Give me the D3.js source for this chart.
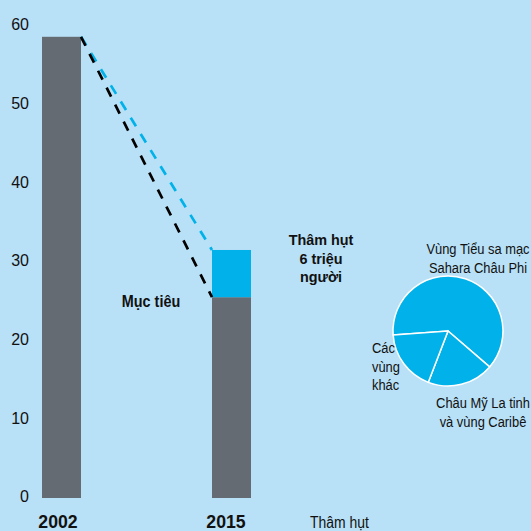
<!DOCTYPE html>
<html><head><meta charset="utf-8">
<script src="https://cdn.jsdelivr.net/npm/d3@7"></script>
<style>
html,body{margin:0;padding:0;background:#b8e0f6;}
svg{display:block;font-family:"Liberation Sans",Arial,sans-serif;}
</style></head>
<body><svg id="c" width="531" height="531"></svg>
<script>
const years = ["2002", "2015"];
const baseValues = [58.5, 25.4];     // 2002 actual, 2015 target
const shortfallValues = [0, 6.0];     // shortfall on top (2015)
const yTicks = [0, 10, 20, 30, 40, 50, 60];
const pieLabels = ["Vùng Tiểu sa mạc Sahara Châu Phi", "Châu Mỹ La tinh và vùng Caribê", "Các vùng khác"];
const pieValues = [62.5, 19.5, 18.0];

const svg = d3.select("#c");
const gray = "#646b72", cyan = "#00b2e9";

const y = d3.scaleLinear().domain([0, 60]).range([497, 25]);
const bw = 39;
const barX = {"2002": 42, "2015": 212};

// condensed text helper
function ctext(t, xx, yy, opts) {
  const o = Object.assign({size: 15, weight: "normal", anchor: "start", sx: 0.86}, opts || {});
  svg.append("g").attr("transform", `translate(${xx},${yy}) scale(${o.sx},1)`)
    .append("text").attr("text-anchor", o.anchor).attr("font-size", o.size)
    .attr("font-weight", o.weight).attr("fill", "#111").text(t);
}

// y-axis labels (no line)
const yAxis = d3.axisLeft(y).tickValues(yTicks).tickSize(0).tickPadding(0);
const ga = svg.append("g").attr("transform", "translate(29,0)").call(yAxis);
ga.select(".domain").remove();
ga.selectAll("text").attr("font-size", 16).attr("fill", "#111").attr("font-family", "Liberation Sans, Arial, sans-serif").attr("dy", "0.3em");

// bars
years.forEach((yr, i) => {
  svg.append("rect").attr("x", barX[yr]).attr("width", bw)
    .attr("y", y(baseValues[i])).attr("height", y(0) - y(baseValues[i]) + 1).attr("fill", gray);
  if (shortfallValues[i] > 0) {
    const top = baseValues[i] + shortfallValues[i];
    svg.append("rect").attr("x", barX[yr]).attr("width", bw)
      .attr("y", y(top)).attr("height", y(baseValues[i]) - y(top)).attr("fill", cyan);
  }
});

// dashed trend lines
const x0 = barX["2002"] + bw, x1 = barX["2015"];
svg.append("line").attr("x1", x0).attr("y1", y(baseValues[0])).attr("x2", x1).attr("y2", y(baseValues[1] + shortfallValues[1]))
  .attr("stroke", cyan).attr("stroke-width", 2.7).attr("stroke-dasharray", "10,9");
svg.append("line").attr("x1", x0).attr("y1", y(baseValues[0])).attr("x2", x1).attr("y2", y(baseValues[1]))
  .attr("stroke", "#000").attr("stroke-width", 2.7).attr("stroke-dasharray", "10,9");

// category labels
ctext(years[0], 58, 528, {size: 19, weight: "bold", anchor: "middle", sx: 0.93});
ctext(years[1], 226, 528, {size: 19, weight: "bold", anchor: "middle", sx: 0.93});
ctext("Thâm hụt", 310, 528, {size: 16, sx: 0.87});

// annotations
ctext("Mục tiêu", 151, 307, {size: 16, weight: "bold", anchor: "middle", sx: 0.9});
["Thâm hụt", "6 triệu", "người"].forEach((t, i) =>
  ctext(t, 321, 245 + i * 18.5, {size: 15, weight: "bold", anchor: "middle", sx: 0.96}));

// pie
const cx = 448, cy = 331, r = 55;
const start = (265.8 - 360) * Math.PI / 180;
const pie = d3.pie().sort(null).startAngle(start).endAngle(start + 2 * Math.PI);
const arc = d3.arc().innerRadius(0).outerRadius(r);
svg.append("g").attr("transform", `translate(${cx},${cy})`)
  .selectAll("path").data(pie(pieValues)).join("path")
  .attr("d", arc).attr("fill", cyan).attr("stroke", "#fff").attr("stroke-width", 1.5);

// pie labels
const lab = (lines, xx, y0, anchor) => lines.forEach((t, i) => ctext(t, xx, y0 + i * 18.5, {size: 15, anchor: anchor}));
lab(["Vùng Tiểu sa mạc", "Sahara Châu Phi"], 478, 254, "middle");
lab(["Châu Mỹ La tinh", "và vùng Caribê"], 483, 408, "middle");
lab(["Các", "vùng", "khác"], 372, 353, "start");
</script></body></html>
